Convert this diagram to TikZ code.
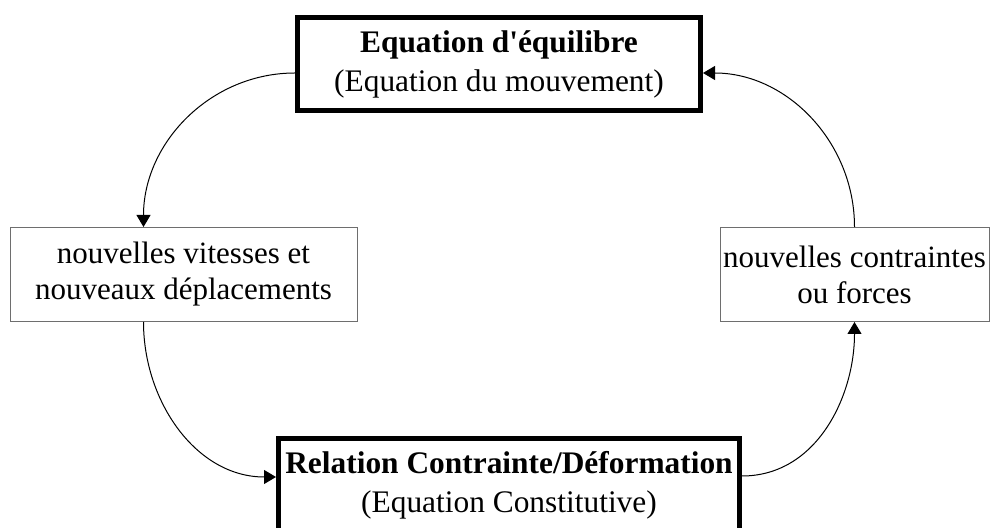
\documentclass[tikz,border=0pt]{standalone}
\usepackage{fontspec}
\setmainfont{Liberation Serif}
\usepackage{tikz}
\usetikzlibrary{arrows.meta, positioning}
\definecolor{cadregris}{RGB}{110,110,110}
\tikzset{
  principal/.style={rectangle, draw=black, line width=2.5pt, fill=white,
    minimum height=46.5pt, inner sep=0pt, align=center,
    font=\fontsize{15.7}{19.5}\selectfont},
  etat/.style={rectangle, draw=cadregris, line width=0.5pt, fill=white,
    minimum height=47pt, inner sep=0pt, align=center,
    font=\fontsize{15.5}{18}\selectfont},
  fleche/.style={-{Triangle[length=6pt,width=7pt]}, line width=0.5pt, color=black}
}

\begin{document}
\begin{tikzpicture}[x=0.5pt, y=-0.5pt]
  \useasboundingbox (0,0) rectangle (990,528);
  \node[principal, minimum width=201.5pt] (equil) at (499,64)
    {\textbf{Equation d\textquotesingle équilibre}\\(Equation du mouvement)};
  \node[etat, minimum width=173.5pt] (vitesses) at (183.5,274.5)
    {nouvelles vitesses et\\nouveaux déplacements};
  \node[etat, minimum width=134.5pt] (contraintes) at (854.5,274.5)
    {nouvelles contraintes\\ou forces};
  \node[principal, minimum width=230.5pt] (relation) at (509,485)
    {\textbf{Relation Contrainte/Déformation}\\(Equation Constitutive)};
  \draw[fleche] ([yshift=-4.5pt]equil.west) to[out=180, in=90] ([xshift=-20pt]vitesses.north);
  \draw[fleche] ([xshift=-20pt]vitesses.south) to[out=-90, in=180] ([yshift=4pt]relation.west);
  \draw[fleche] ([yshift=4.5pt]relation.east) to[out=0, in=-90] (contraintes.south);
  \draw[fleche] (contraintes.north) to[out=90, in=0] ([yshift=-4.5pt]equil.east);
\end{tikzpicture}
\end{document}
